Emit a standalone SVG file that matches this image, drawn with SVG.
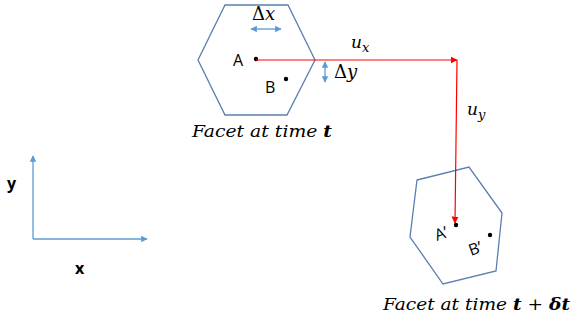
<svg xmlns="http://www.w3.org/2000/svg" width="571" height="320" viewBox="0 0 571 320">
<style>
.hex{fill:none;stroke:#5a7fb0;stroke-width:1.3}
.ax{stroke:#5b9bd5;stroke-width:1.3;fill:none}
.red{stroke:#ff0000;stroke-width:1.2;fill:none}
.lbl{font-family:"Open Sans","Liberation Sans",Arial,sans-serif;font-size:16px;fill:#000}
.bold{font-family:"Open Sans","Liberation Sans",Arial,sans-serif;font-size:16px;font-weight:bold;fill:#000}
.math{font-family:"DejaVu Serif","Liberation Serif",serif;font-size:18px;fill:#000}
.cap{font-family:"DejaVu Serif","Liberation Serif",serif;font-size:17px;font-style:italic;fill:#000}
</style>
<defs>
<marker id="ab" viewBox="0 0 10 10" refX="9" refY="5" markerWidth="5" markerHeight="5" orient="auto-start-reverse"><path d="M0,0 L10,5 L0,10 z" fill="#5b9bd5"/></marker>
<marker id="ar" viewBox="0 0 10 10" refX="9" refY="5" markerWidth="6" markerHeight="6" orient="auto"><path d="M0,0 L10,5 L0,10 z" fill="#ff0000"/></marker>
</defs>
<g id="facet-t">
<polygon class="hex" points="225,5 288,5 315,60 287,115 225,115 198,60"/>
<text class="lbl" x="233" y="66">A</text>
<circle cx="256" cy="59" r="2.2" fill="#000"/>
<text class="lbl" x="265" y="93">B</text>
<circle cx="286" cy="79" r="2.2" fill="#000"/>
<text class="math" x="252" y="20"><tspan>Δ</tspan><tspan font-style="italic">x</tspan></text>
<line class="ax" x1="251" y1="29" x2="281" y2="29" marker-start="url(#ab)" marker-end="url(#ab)"/>
<line class="ax" x1="325" y1="62" x2="325" y2="82" marker-start="url(#ab)" marker-end="url(#ab)"/>
<text class="math" x="334" y="78"><tspan>Δ</tspan><tspan font-style="italic">y</tspan></text>
<text class="cap" x="192" y="137" textLength="140" lengthAdjust="spacingAndGlyphs">Facet at time <tspan font-weight="bold">t</tspan></text>
</g>
<g id="facet-t-dt">
<polygon class="hex" points="417,180 469,167 502,213 496,271 443,284 410,237"/>
<text class="lbl" font-family="Liberation Sans, Arial, sans-serif" font-size="17" transform="translate(437,241) rotate(-20)">A’</text>
<circle cx="456" cy="225" r="2.2" fill="#000"/>
<text class="lbl" font-family="Liberation Sans, Arial, sans-serif" font-size="17" transform="translate(471,256) rotate(-20)">B’</text>
<circle cx="490" cy="235" r="2.2" fill="#000"/>
<text class="cap" x="383" y="310" textLength="187" lengthAdjust="spacingAndGlyphs">Facet at time <tspan font-weight="bold">t</tspan><tspan font-style="normal"> + </tspan><tspan font-weight="bold">δt</tspan></text>
</g>
<g id="axes">
<line class="ax" x1="33" y1="239" x2="33" y2="156" marker-end="url(#ab)"/>
<line class="ax" x1="33" y1="239" x2="147" y2="239" marker-end="url(#ab)"/>
<text class="bold" x="7" y="189">y</text>
<text class="bold" x="75" y="274">x</text>
</g>
<g id="connectors">
<line class="red" x1="256" y1="60" x2="457" y2="60" marker-end="url(#ar)"/>
<line class="red" x1="457" y1="60" x2="455" y2="223" marker-end="url(#ar)"/>
<text class="cap" x="351" y="48" font-size="18">u<tspan font-size="13" dy="4">x</tspan></text>
<text class="cap" x="467" y="115" font-size="18">u<tspan font-size="13" dy="4">y</tspan></text>
</g>
</svg>
